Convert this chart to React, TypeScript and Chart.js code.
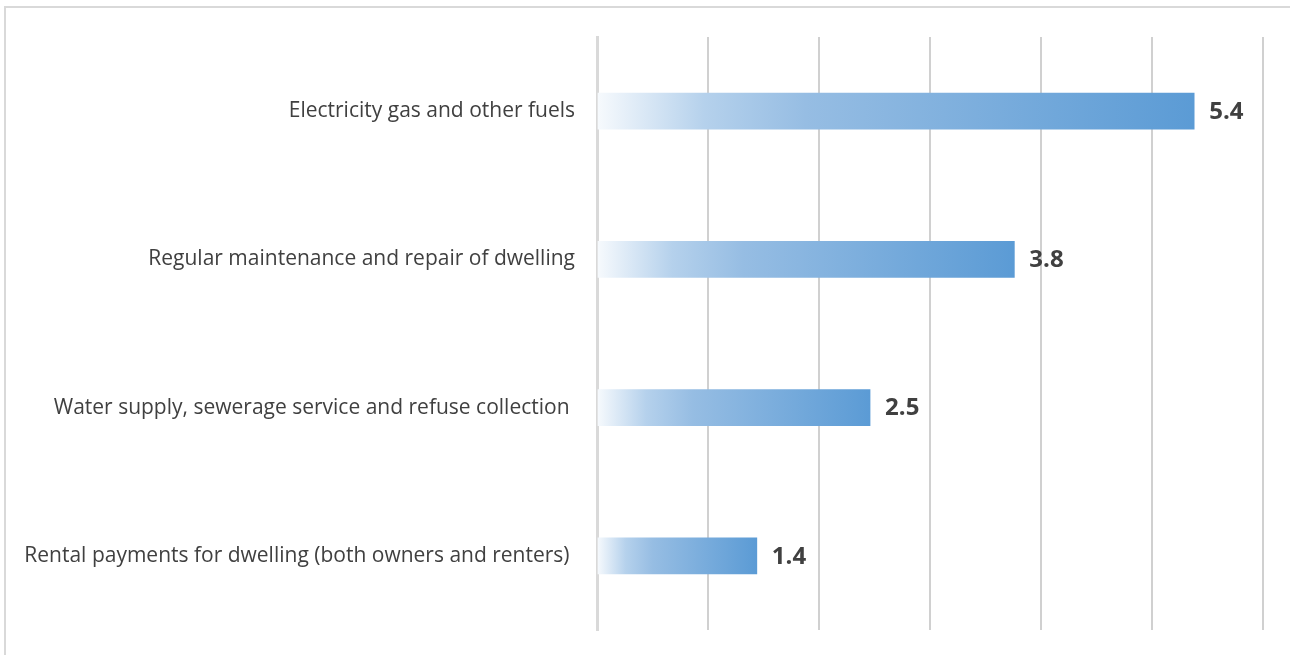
import React, { useEffect, useRef } from "react";
import { Chart, registerables } from "chart.js";

Chart.register(...registerables);

const categories = [
  "Electricity gas and other fuels",
  "Regular maintenance and repair of dwelling",
  "Water supply, sewerage service and refuse collection ",
  "Rental payments for dwelling (both owners and renters) ",
];
const values = [5.38, 3.76, 2.46, 1.44];
const valueLabels = ["5.4", "3.8", "2.5", "1.4"];
const xTicks = [0, 1, 2, 3, 4, 5, 6];

const FONT = "'Open Sans', 'Noto Sans', sans-serif";

export default function App() {
  const ref = useRef<HTMLCanvasElement | null>(null);

  useEffect(() => {
    if (!ref.current) return;
    const labelPlugin = {
      id: "valueLabels",
      afterDatasetsDraw(chart: any) {
        const c = chart.ctx;
        const meta = chart.getDatasetMeta(0);
        c.save();
        c.font = `bold 24px ${FONT}`;
        c.fillStyle = "#404040";
        c.textAlign = "left";
        c.textBaseline = "middle";
        meta.data.forEach((bar: any, i: number) => {
          c.fillText(valueLabels[i], bar.x + 15, bar.y + 1);
        });
        c.restore();
      },
    };

    const chart = new Chart(ref.current, {
      type: "bar",
      data: {
        labels: categories,
        datasets: [
          {
            data: values,
            barThickness: 36,
            backgroundColor: (ctx: any) => {
              const ch = ctx.chart;
              const xs = ch.scales && ch.scales.x;
              if (!ch.chartArea || !xs || ctx.dataIndex === undefined) return "#5B9BD5";
              const v = values[ctx.dataIndex];
              const x0 = xs.getPixelForValue(0);
              const x1 = xs.getPixelForValue(v);
              if (!isFinite(x0) || !isFinite(x1) || x1 <= x0) return "#5B9BD5";
              const g = ch.ctx.createLinearGradient(x0, 0, x1, 0);
              g.addColorStop(0, "#f7fafd");
              g.addColorStop(0.18, "#b5d1ec");
              g.addColorStop(0.35, "#96bde3");
              g.addColorStop(1, "#5b9bd5");
              return g;
            },
            borderWidth: 0,
          },
        ],
      },
      options: {
        indexAxis: "y",
        animation: false,
        responsive: true,
        maintainAspectRatio: false,
        layout: { padding: { left: 0, right: 27, top: 37, bottom: 25 } },
        plugins: {
          legend: { display: false },
          tooltip: { enabled: false },
        },
        scales: {
          x: {
            min: 0,
            max: 6,
            afterBuildTicks: (scale: any) => {
              scale.ticks = xTicks.map((v) => ({ value: v }));
            },
            ticks: { display: false },
            grid: { color: "#d0d0d0", lineWidth: 2, drawTicks: false },
            border: { display: false },
            afterFit: (scale: any) => {
              scale.height = 0;
              scale.paddingLeft = 0;
              scale.paddingRight = 0;
            },
          },
          y: {
            grid: { display: false, drawTicks: false },
            border: { display: true, color: "#d9d9d9", width: 3 },
            ticks: {
              padding: 22,
              color: "#404040",
              font: { family: FONT, size: 21 },
            },
            afterFit: (scale: any) => {
              scale.width = 597;
              scale.paddingTop = 0;
              scale.paddingBottom = 0;
            },
          },
        },
      },
      plugins: [labelPlugin],
    });
    return () => chart.destroy();
  }, []);

  return (
    <div style={{ position: "fixed", left: 0, top: 0, width: 1290, height: 655, background: "#fff" }}>
      <div
        style={{
          position: "absolute",
          left: 4,
          top: 6,
          width: 1300,
          height: 700,
          border: "2px solid #d9d9d9",
          boxSizing: "border-box",
        }}
      />
      <canvas ref={ref} style={{ position: "absolute", left: 0, top: 0 }} />
    </div>
  );
}
